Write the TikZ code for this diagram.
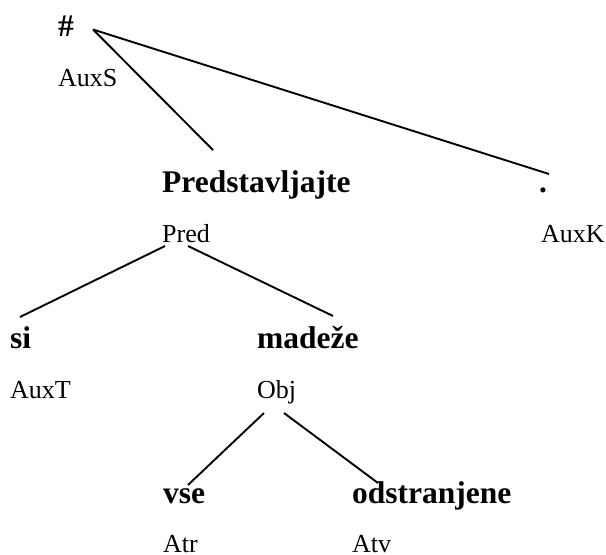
\documentclass[tikz,border=0pt]{standalone}
\usepackage{fontspec}
\setmainfont{Liberation Serif}
\usetikzlibrary{calc}
\begin{document}
\begin{tikzpicture}[x=1pt,y=-1pt,
  word/.style={anchor=base west,inner sep=0pt,font=\fontsize{31.5}{36}\selectfont\bfseries},
  rel/.style={anchor=base west,inner sep=0pt,font=\fontsize{26}{30}\selectfont},
  edge/.style={line width=1.9pt,black}]
\useasboundingbox[fill=white] (0,0) rectangle (606,555);

% root and its label
\node[word] (hash)   at (58,36.5) {\#};
\node[rel]  (auxs)   at (58,86)   {AuxS};

% second level
\node[word] (pred)   at (162,192) {Predstavljajte};
\node[rel]  (predr)  at (162,242) {Pred};
\node[word] (dot)    at (539,192) {.};
\node[rel]  (auxk)   at (541,242) {AuxK};

% third level
\node[word] (si)     at (10,348)  {si};
\node[rel]  (auxt)   at (10,398)  {AuxT};
\node[word] (madeze) at (257,348) {madeže};
\node[rel]  (obj)    at (257,398) {Obj};

% fourth level
\node[word] (vse)    at (163,503) {vse};
\node[rel]  (atr)    at (163,552) {Atr};
\node[word] (odstr)  at (352,503) {odstranjene};
\node[rel]  (atv)    at (352,552) {Atv};

% dependency edges
\draw[edge] ([shift={(35,-7)}]hash.base west) -- ([shift={(51,-42)}]pred.base west);
\draw[edge] ([shift={(35,-7)}]hash.base west) -- ([shift={(10,-18)}]dot.base west);
\draw[edge] ([shift={(3,4)}]predr.base west) -- ([shift={(10,-31)}]si.base west);
\draw[edge] ([shift={(26,4)}]predr.base west) -- ([shift={(76,-32)}]madeze.base west);
\draw[edge] ([shift={(7,15)}]obj.base west) -- ([shift={(25,-18)}]vse.base west);
\draw[edge] ([shift={(27,15)}]obj.base west) -- ([shift={(26,-20)}]odstr.base west);
\end{tikzpicture}
\end{document}
